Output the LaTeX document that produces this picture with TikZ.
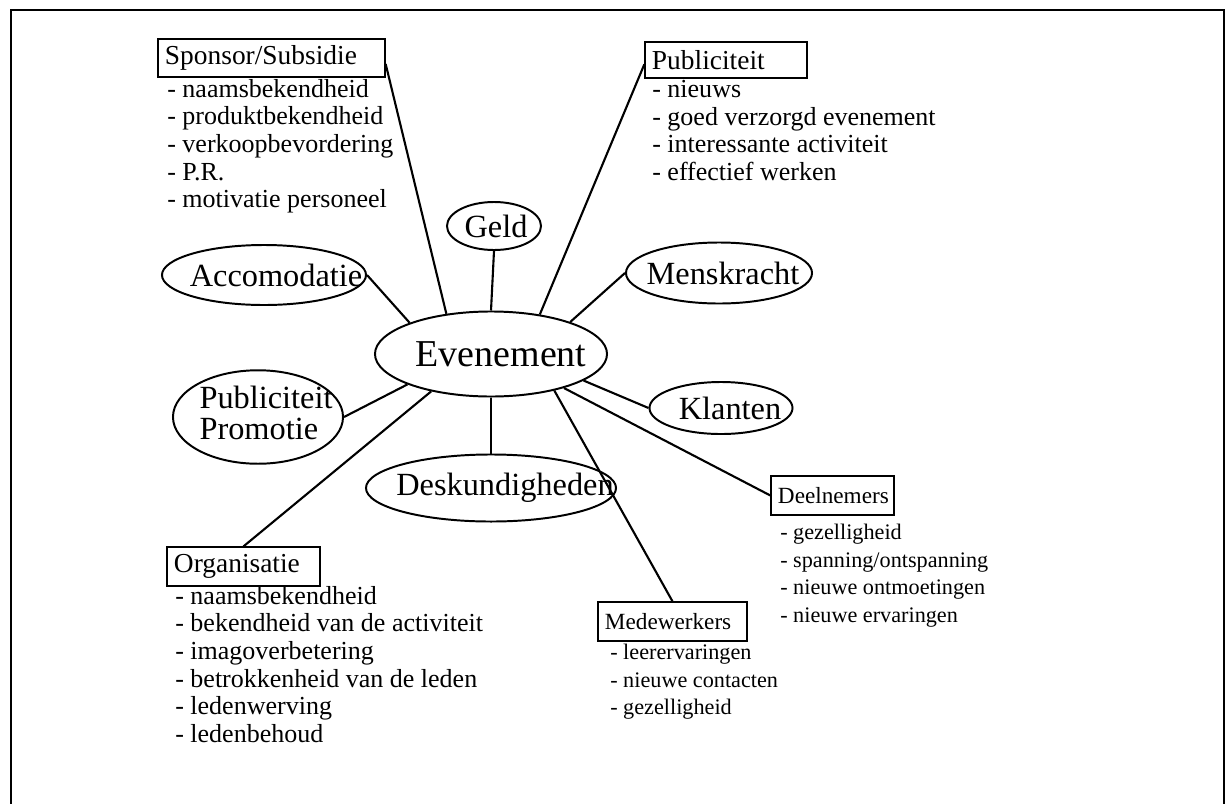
\documentclass[tikz,border=0pt]{standalone}
\usepackage{fontspec}
\setmainfont{Liberation Serif}
\usetikzlibrary{shapes.geometric}

% label inside an oval, the oval keeps its own size
\newcommand{\ovtekst}[2][0pt]{\makebox[0pt]{\hspace*{#1}#2}}

\tikzset{
	ovaal/.style={draw, ellipse, line width=1.4pt, inner sep=0pt, font=\fontsize{23}{25}\selectfont},
	kop/.style={draw, rectangle, line width=0.9pt, inner xsep=0.175cm, inner ysep=0pt, align=left, font=\fontsize{19.5}{21}\selectfont},
	kopklein/.style={kop, font=\fontsize{16.5}{19}\selectfont},
	lijst/.style={anchor=north west, inner sep=0pt, align=left, font=\fontsize{18.5}{19.6}\selectfont},
	lijstklein/.style={lijst, font=\fontsize{15.8}{19.6}\selectfont},
	lijn/.style={line width=1.5pt}
}

\begin{document}
\begin{tikzpicture}[x=0.025cm, y=-0.025cm]
		
		\useasboundingbox (0,0) rectangle (1228,803);
		
		% frame
		\draw[line width=2pt] (11,830) -- (11,10) -- (1224,10) -- (1224,830);
		
		% ovals
		\node[ovaal, minimum width=5.8cm, minimum height=2.125cm, font=\fontsize{27}{30}\selectfont] (even) at (491,354) {\ovtekst[0.5cm]{Evenement}};
		\node[ovaal, minimum width=2.35cm, minimum height=1.2cm] (geld) at (494,226) {\ovtekst[0.1cm]{Geld}};
		\node[ovaal, minimum width=5.1cm, minimum height=1.5cm] (acco) at (264,275) {\ovtekst[0.6cm]{Accomodatie}};
		\node[ovaal, minimum width=4.65cm, minimum height=1.525cm] (mens) at (719,273) {\ovtekst[0.2cm]{Menskracht}};
		\node[ovaal, minimum width=3.575cm, minimum height=1.3cm] (klant) at (721,408) {\ovtekst[0.45cm]{Klanten}};
		\node[ovaal, minimum width=4.25cm, minimum height=2cm] (pubprom) at (258,417) {\ovtekst[0.4cm]{\begin{tabular}{@{}l@{}}Publiciteit\\[-3pt]Promotie\end{tabular}}};
		\node[ovaal, minimum width=6.25cm, minimum height=1.675cm] (desk) at (491,488) {\ovtekst[0.7cm]{Deskundigheden}};
		
		% boxes
		\node[kop, text width=5.325cm, minimum height=0.95cm] (sponsor) at (271.5,58) {Sponsor/Subsidie};
		\node[kop, text width=3.7cm, minimum height=0.9cm] (pub) at (726,60) {Publiciteit};
		\node[kop, text width=3.475cm, minimum height=0.975cm] (org) at (243.5,566.5) {Organisatie};
		\node[kopklein, text width=3.375cm, minimum height=0.975cm] (mede) at (672.5,621.5) {Medewerkers};
		\node[kopklein, text width=2.725cm, minimum height=0.975cm] (deel) at (832.5,495.5) {Deelnemers};
		
		% lists
		\node[lijst] (sponsorlijst) at (167,79) {- naamsbekendheid\\- produktbekendheid\\- verkoopbevordering\\- P.R.\\- motivatie personeel};
		\node[lijst] (publijst) at (652,80) {- nieuws\\- goed verzorgd evenement\\- interessante activiteit\\- effectief werken};
		\node[lijst] (orglijst) at (175,586) {- naamsbekendheid\\- bekendheid van de activiteit\\- imagoverbetering\\- betrokkenheid van de leden\\- ledenwerving\\- ledenbehoud};
		\node[lijstklein] (medelijst) at (610,644) {- leerervaringen\\- nieuwe contacten\\- gezelligheid};
		\node[lijstklein] (deellijst) at (780,524) {- gezelligheid\\- spanning/ontspanning\\- nieuwe ontmoetingen\\- nieuwe ervaringen};
		
		% connectors
		\draw[lijn] (even.138) -- (sponsor.-3);
		\draw[lijn] (even.north) -- (geld.south);
		\draw[lijn] (even.39) -- (pub.183);
		\draw[lijn] (even.159) -- (acco.east);
		\draw[lijn] (even.22) -- (mens.west);
		\draw[lijn] (even.200) -- (pubprom.east);
		\draw[lijn] (even.344) -- (klant.west);
		\draw[lijn] (even.south) -- (desk.north);
		\draw[lijn] (even.212) -- (org.north);
		\draw[lijn] (even.330) -- (mede.north);
		\draw[lijn] (even.335) -- (deel.west);
		
\end{tikzpicture}
\end{document}
